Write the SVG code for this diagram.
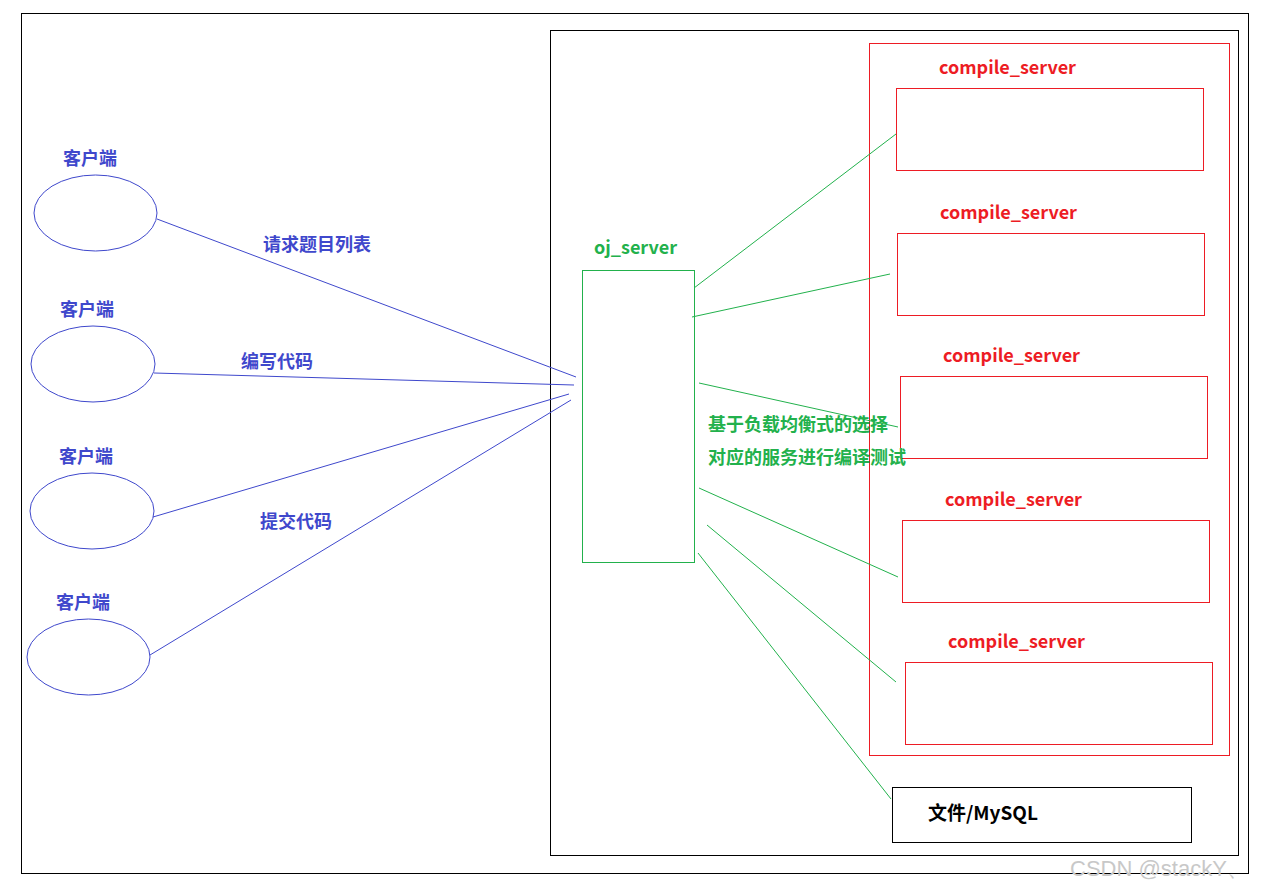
<svg xmlns="http://www.w3.org/2000/svg" width="1262" height="890" viewBox="0 0 1262 890">
<style>
  .frame{fill:none;stroke:#000;stroke-width:1}
  .red{fill:none;stroke:#ed1c24;stroke-width:1}
  .grn{fill:none;stroke:#22b14c;stroke-width:1}
  .blu{fill:none;stroke:#3f48cc;stroke-width:1}
  text{font-family:"Microsoft YaHei","Noto Sans CJK SC","Noto Sans",sans-serif;font-weight:bold;font-size:18px;dominant-baseline:central}
  .tr{fill:#ed1c24}
  .tg{fill:#22b14c}
  .tb{fill:#3f48cc}
  .tk{fill:#000;font-size:19px}
  .wm{fill:#c8c8c8;font-weight:normal;font-family:"Liberation Sans",Arial,sans-serif;font-size:22px}
</style>
<rect width="1262" height="890" fill="#fff"/>
<rect class="frame" x="21.5" y="13.5" width="1227" height="860"/>
<rect class="frame" x="550.5" y="30.5" width="688" height="825"/>
<g id="compile-cluster">
  <rect class="red" x="869.5" y="43.5" width="360" height="712"/>
</g>
<g id="compile1"><rect class="red" x="896.5" y="88.5" width="307" height="82"/><text class="tr" x="939" y="66">compile_server</text></g>
<g id="compile2"><rect class="red" x="897.5" y="233.5" width="307" height="82"/><text class="tr" x="940" y="211">compile_server</text></g>
<g id="compile3"><rect class="red" x="900.5" y="376.5" width="307" height="82"/><text class="tr" x="943" y="354">compile_server</text></g>
<g id="compile4"><rect class="red" x="902.5" y="520.5" width="307" height="82"/><text class="tr" x="945" y="498">compile_server</text></g>
<g id="compile5"><rect class="red" x="905.5" y="662.5" width="307" height="82"/><text class="tr" x="948" y="640">compile_server</text></g>
<g id="storage"><rect class="frame" x="892.5" y="787.5" width="299" height="55"/><text class="tk" x="928" y="811">文件/MySQL</text></g>
<g id="oj_server"><rect class="grn" x="582.5" y="270.5" width="112" height="292"/><text class="tg" x="594" y="246">oj_server</text></g>
<g id="client1"><ellipse class="blu" cx="95.5" cy="213" rx="61.5" ry="38"/><text class="tb" x="63" y="157">客户端</text></g>
<g id="client2"><ellipse class="blu" cx="93" cy="364" rx="62" ry="38"/><text class="tb" x="60" y="308">客户端</text></g>
<g id="client3"><ellipse class="blu" cx="92" cy="511" rx="62" ry="38"/><text class="tb" x="59" y="455">客户端</text></g>
<g id="client4"><ellipse class="blu" cx="88.5" cy="657" rx="61.5" ry="38"/><text class="tb" x="56" y="601">客户端</text></g>
<g id="connectors">
  <line class="blu" x1="157" y1="219" x2="576" y2="377"/>
  <line class="blu" x1="154" y1="373" x2="574" y2="385"/>
  <line class="blu" x1="153" y1="517" x2="569" y2="394"/>
  <line class="blu" x1="150" y1="655" x2="571" y2="400"/>
  <line class="grn" x1="694" y1="288" x2="896" y2="134"/>
  <line class="grn" x1="692" y1="317" x2="890" y2="274"/>
  <line class="grn" x1="699" y1="383" x2="898" y2="427"/>
  <line class="grn" x1="699" y1="488" x2="898" y2="577"/>
  <line class="grn" x1="707" y1="525" x2="896" y2="682"/>
  <line class="grn" x1="698" y1="553" x2="891" y2="799"/>
</g>
<g id="labels">
  <text class="tb" x="263" y="243">请求题目列表</text>
  <text class="tb" x="241" y="360">编写代码</text>
  <text class="tb" x="260" y="520">提交代码</text>
  <text class="tg" x="708" y="423">基于负载均衡式的选择</text>
  <text class="tg" x="708" y="456">对应的服务进行编译测试</text>
</g>
<text class="wm" x="1070" y="868">CSDN @stackY、</text>
</svg>
